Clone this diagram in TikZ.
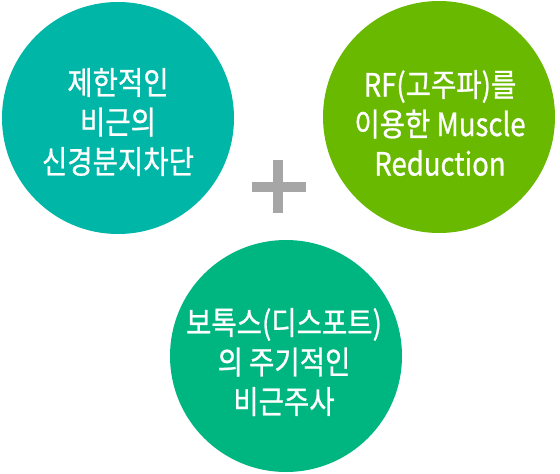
\documentclass[tikz,border=0pt]{standalone}
\usepackage{fontspec}
\setmainfont[FakeStretch=0.86, FakeBold=0.8]{Noto Sans CJK KR}
\definecolor{cteal}{RGB}{0,182,167}
\definecolor{cgreen}{RGB}{104,185,0}
\definecolor{cjade}{RGB}{0,182,128}
\definecolor{cplus}{RGB}{166,166,166}
\tikzset{
  disc/.style={circle, inner sep=0pt, minimum size=232pt, draw=none},
  caption/.style={text=white, align=center, inner sep=0pt, font=\fontsize{32}{39.5}\selectfont},
}
\begin{document}
\begin{tikzpicture}[x=1pt,y=-1pt]
\useasboundingbox (0,0) rectangle (560,474);
\node[disc, fill=cteal] (left) at (118,118) {};
\node[disc, fill=cgreen] (right) at (439,117) {};
\node[disc, fill=cjade] (bottom) at (286,356) {};
\node[caption] (lefttext) at (118,122) {제한적인\\비근의\\신경분지차단};
\node[caption] (righttext) at (440,123) {RF(고주파)를\\이용한 Muscle\\Reduction};
\node[caption] (bottomtext) at (284,362) {보톡스(디스포트)\\의 주기적인\\비근주사};
\fill[cplus] (252,182) rectangle (306,192);
\fill[cplus] (273,160) rectangle (283,213);
\end{tikzpicture}
\end{document}
